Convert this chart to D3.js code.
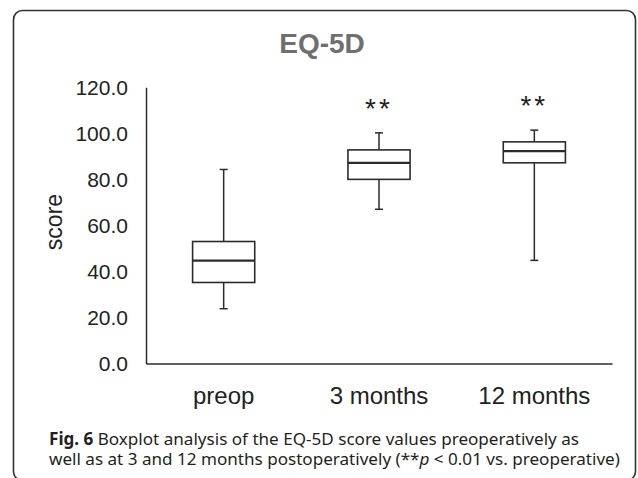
<!DOCTYPE html>
<html>
<head>
<meta charset="utf-8">
<script src="https://cdn.jsdelivr.net/npm/d3@7"></script>
<style>
  body { margin: 0; background: #fff; }
  svg { display: block; }
</style>
</head>
<body>
<svg width="638" height="478"></svg>
<script>
// data
var categories = ["preop", "3 months", "12 months"];
var whiskerLow = [23.8, 67.0, 44.8];
var q1 = [35.2, 80.0, 87.2];
var median = [44.7, 87.2, 92.3];
var q3 = [53.0, 92.8, 96.3];
var whiskerHigh = [84.3, 100.2, 101.4];
var sigMarks = ["", "**", "**"];
var yTicks = [0, 20, 40, 60, 80, 100, 120];

var boxes = categories.map(function (c, i) {
  return { cat: c, lo: whiskerLow[i], q1: q1[i], med: median[i], q3: q3[i], hi: whiskerHigh[i], sig: sigMarks[i] };
});

var svg = d3.select("svg"),
  width = +svg.attr("width"),
  height = +svg.attr("height");

var ink = "#2b2b2b";

// frame
svg.append("rect")
  .attr("x", 13.5).attr("y", 10.5)
  .attr("width", 622).attr("height", 470)
  .attr("rx", 9).attr("ry", 9)
  .attr("fill", "none")
  .attr("stroke", "#333")
  .attr("stroke-width", 1.6);

var x = d3.scaleBand()
  .domain(categories)
  .range([146, 612]);

var y = d3.scaleLinear()
  .domain([0, 120])
  .range([363.5, 87.3]);

// title
svg.append("text")
  .attr("x", 322).attr("y", 52.5)
  .attr("text-anchor", "middle")
  .style("font-family", "Liberation Sans, Arial, sans-serif")
  .style("font-weight", "bold")
  .style("font-size", "28px")
  .attr("fill", "#6f6f6f")
  .text("EQ-5D");

// y axis
var yAxis = svg.append("g")
  .attr("transform", "translate(146,0)")
  .call(d3.axisLeft(y).tickValues(yTicks).tickSize(0).tickPadding(18).tickFormat(d3.format(".1f")));
yAxis.select(".domain").attr("stroke", ink).attr("stroke-width", 1.5);
yAxis.selectAll("text")
  .style("font-family", "Liberation Sans, Arial, sans-serif")
  .style("font-size", "21px")
  .attr("fill", "#222");

// x axis
var xAxis = svg.append("g")
  .attr("transform", "translate(0,363.5)")
  .call(d3.axisBottom(x).tickSize(0).tickPadding(23));
xAxis.select(".domain").attr("stroke", ink).attr("stroke-width", 1.5);
xAxis.selectAll("text")
  .style("font-family", "Liberation Sans, Arial, sans-serif")
  .style("font-size", "24px")
  .attr("fill", "#222");

// y label
svg.append("text")
  .attr("transform", "translate(61.5,222) rotate(-90)")
  .attr("text-anchor", "middle")
  .style("font-family", "Liberation Sans, Arial, sans-serif")
  .style("font-size", "23px")
  .attr("fill", "#222")
  .text("score");

// boxes
var bw = x.bandwidth() * 0.4;
var capW = 8;
var g = svg.append("g");

var box = g.selectAll("g.box")
  .data(boxes)
  .enter().append("g")
  .attr("class", "box")
  .attr("transform", function (d) { return "translate(" + (x(d.cat) + x.bandwidth() / 2) + ",0)"; });

// whiskers
box.append("line")
  .attr("x1", 0).attr("x2", 0)
  .attr("y1", function (d) { return y(d.q3); })
  .attr("y2", function (d) { return y(d.hi); })
  .attr("stroke", ink).attr("stroke-width", 1.5);
box.append("line")
  .attr("x1", 0).attr("x2", 0)
  .attr("y1", function (d) { return y(d.q1); })
  .attr("y2", function (d) { return y(d.lo); })
  .attr("stroke", ink).attr("stroke-width", 1.5);
box.append("line")
  .attr("x1", -capW / 2).attr("x2", capW / 2)
  .attr("y1", function (d) { return y(d.hi); })
  .attr("y2", function (d) { return y(d.hi); })
  .attr("stroke", ink).attr("stroke-width", 1.5);
box.append("line")
  .attr("x1", -capW / 2).attr("x2", capW / 2)
  .attr("y1", function (d) { return y(d.lo); })
  .attr("y2", function (d) { return y(d.lo); })
  .attr("stroke", ink).attr("stroke-width", 1.5);

box.append("rect")
  .attr("x", -bw / 2)
  .attr("width", bw)
  .attr("y", function (d) { return y(d.q3); })
  .attr("height", function (d) { return y(d.q1) - y(d.q3); })
  .attr("fill", "#fff")
  .attr("stroke", ink).attr("stroke-width", 1.6);

box.append("line")
  .attr("x1", -bw / 2).attr("x2", bw / 2)
  .attr("y1", function (d) { return y(d.med); })
  .attr("y2", function (d) { return y(d.med); })
  .attr("stroke", ink).attr("stroke-width", 2.2);

// significance marks
box.append("text")
  .attr("y", function (d) { return y(d.hi) - 15; })
  .attr("text-anchor", "middle")
  .style("font-family", "Liberation Sans, Arial, sans-serif")
  .style("font-size", "28px")
  .style("letter-spacing", "3px")
  .attr("fill", "#222")
  .text(function (d) { return d.sig; });

// caption, sized so the second line spans the same width as in the reference
var cap = svg.append("g")
  .style("font-family", "Noto Sans, Open Sans, sans-serif")
  .style("font-size", "17px")
  .attr("fill", "#231f20");

var l1 = cap.append("text")
  .attr("x", 49).attr("y", 445);
l1.append("tspan").style("font-weight", "bold").text("Fig. 6");
l1.append("tspan").text(" Boxplot analysis of the EQ-5D score values preoperatively as");

var l2 = cap.append("text")
  .attr("x", 49).attr("y", 465);
l2.append("tspan").text("well as at 3 and 12 months postoperatively (**");
l2.append("tspan").style("font-style", "italic").text("p");
l2.append("tspan").text(" < 0.01 vs. preoperative)");

var w2 = l2.node().getComputedTextLength();
cap.style("font-size", (17 * 571 / w2).toFixed(2) + "px");
</script>
</body>
</html>
